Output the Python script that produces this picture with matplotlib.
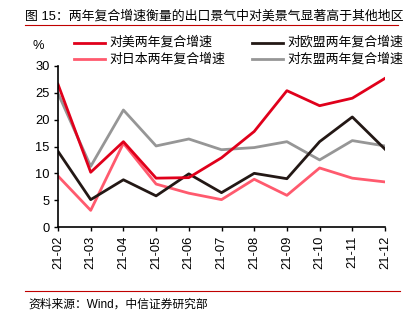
import matplotlib
matplotlib.use('Agg')
import matplotlib.pyplot as plt
from matplotlib.lines import Line2D

plt.rcParams['font.family'] = ['Liberation Sans', 'Noto Sans CJK SC', 'DejaVu Sans']

months = ['21-02', '21-03', '21-04', '21-05', '21-06', '21-07',
          '21-08', '21-09', '21-10', '21-11', '21-12']
us = [26.6, 10.2, 15.9, 9.1, 9.2, 12.9, 17.8, 25.4, 22.6, 24.0, 27.7]
eu = [14.1, 5.1, 8.8, 5.8, 9.9, 6.4, 10.0, 9.0, 15.9, 20.5, 14.5]
japan = [9.5, 3.1, 15.6, 8.0, 6.3, 5.1, 8.9, 5.9, 11.0, 9.1, 8.4]
asean = [24.9, 11.3, 21.8, 15.1, 16.4, 14.4, 14.8, 15.9, 12.5, 16.1, 15.1]

names = ['对美两年复合增速', '对欧盟两年复合增速', '对日本两年复合增速', '对东盟两年复合增速']
colors = ['#E0001B', '#231815', '#FF5A6E', '#969696']

W, H = 419, 326
fig = plt.figure(figsize=(W / 100, H / 100), dpi=100)
ax = fig.add_axes([58 / W, 1 - 227 / H, (385 - 58) / W, (227 - 66) / H])

x = range(len(months))
# grey drawn first so it sits under the rest
ax.plot(x, asean, color=colors[3], lw=2)
ax.plot(x, japan, color=colors[2], lw=2)
ax.plot(x, eu, color=colors[1], lw=2)
ax.plot(x, us, color=colors[0], lw=2)

ax.set_xlim(0, len(months) - 1)
ax.set_ylim(0, 30)
ax.set_yticks(range(0, 31, 5))
ax.set_xticks(list(x))
ax.set_xticklabels(months, rotation=90, fontsize=9.3)
ax.tick_params(axis='y', labelsize=9.3, direction='out', length=3, width=1, pad=3)
ax.tick_params(axis='x', direction='out', length=3, width=1, pad=3)
for s in ['top', 'right']:
    ax.spines[s].set_visible(False)
for s in ['left', 'bottom']:
    ax.spines[s].set_linewidth(1.2)

# legend drawn by hand: 2 rows x 2 columns
line_x = [(74, 105), (252, 283)]
text_x = [109, 287]
row_y = [42.7, 59.3]
for i, (name, c) in enumerate(zip(names, colors)):
    r, col = divmod(i, 2)
    x0, x1 = line_x[col]
    y = 1 - row_y[r] / H
    fig.add_artist(Line2D([x0 / W, x1 / W], [y, y], color=c, lw=2))
    fig.text(text_x[col] / W, y, name, fontsize=9.3, va='center', ha='left')
fig.text(38 / W, 1 - 46 / H, '%', fontsize=9.3, va='center', ha='center')

# title and source
fig.text(25 / W, 1 - 16 / H, '图 15：两年复合增速衡量的出口景气中对美景气显著高于其他地区',
         fontsize=9.3, va='center', ha='left')
fig.add_artist(Line2D([25 / W, 398 / W], [1 - 25 / H, 1 - 25 / H],
                      color='#C00000', lw=0.8))
fig.add_artist(Line2D([25 / W, 400 / W], [1 - 291 / H, 1 - 291 / H],
                      color='#C00000', lw=0.8))
fig.text(28 / W, 1 - 305 / H, '资料来源：Wind，中信证券研究部',
         fontsize=8.5, va='center', ha='left')

fig.savefig('out.png', dpi=100)
